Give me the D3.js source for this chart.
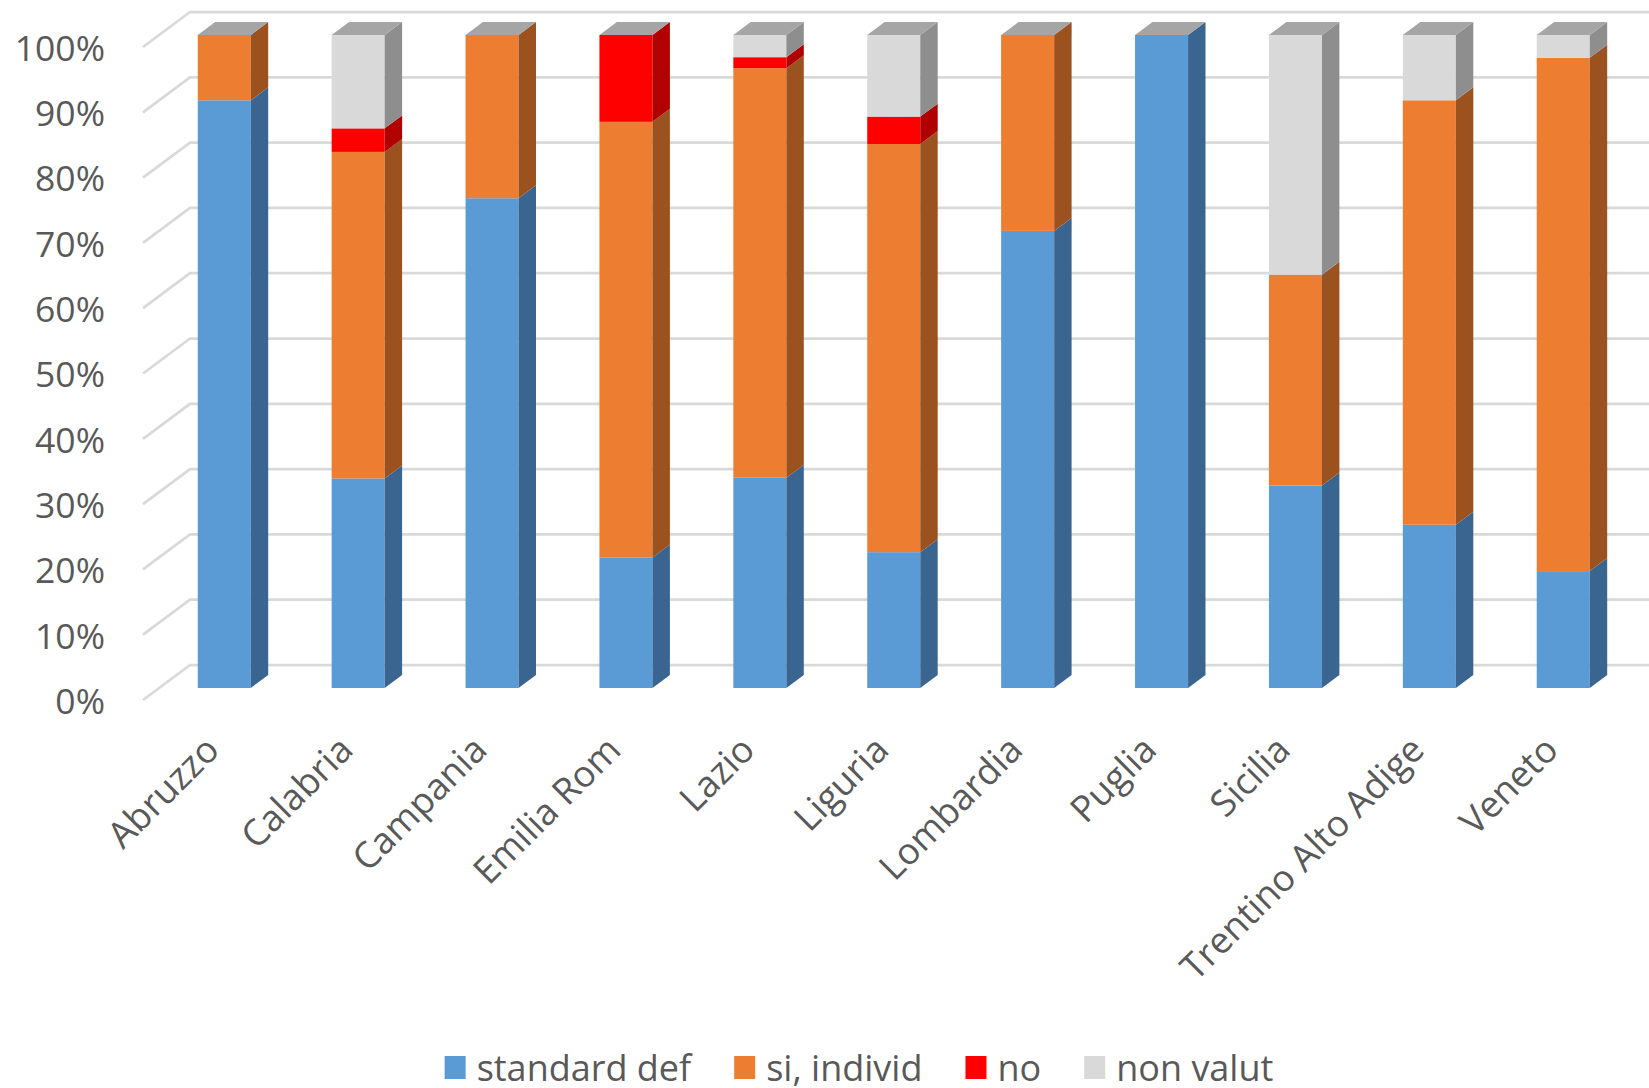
<!DOCTYPE html>
<html>
<head>
<meta charset="utf-8">
<script src="https://cdn.jsdelivr.net/npm/d3@7"></script>
<style>
  html, body { margin: 0; padding: 0; background: #ffffff; }
  svg { display: block; font-family: "Open Sans", "Noto Sans", sans-serif; }
</style>
</head>
<body>
<svg id="chart" width="1649" height="1088"></svg>
<script>
// Regions and the share (%) of each answer per region
const categories = ["Abruzzo", "Calabria", "Campania", "Emilia Rom", "Lazio", "Liguria",
  "Lombardia", "Puglia", "Sicilia", "Trentino Alto Adige", "Veneto"];
const standardDef = [90, 32.1, 75, 20, 32.2, 20.8, 70, 100, 31, 25, 17.9];
const siIndivid   = [10, 50, 25, 66.7, 62.7, 62.5, 30, 0, 32.3, 65, 78.6];
const no          = [0, 3.6, 0, 13.3, 1.7, 4.2, 0, 0, 0, 0, 0];
const nonValut    = [0, 14.3, 0, 0, 3.4, 12.5, 0, 0, 36.7, 10, 3.5];

const seriesNames = ["standard def", "si, individ", "no", "non valut"];
const tickValues = [0, 10, 20, 30, 40, 50, 60, 70, 80, 90, 100];
const tickLabels = ["0%", "10%", "20%", "30%", "40%", "50%", "60%", "70%", "80%", "90%", "100%"];

const frontColors = ["#5b9bd5", "#ed7d31", "#ff0000", "#d9d9d9"];
const sideColors  = ["#3b6591", "#9c521f", "#b00000", "#8e8e8e"];
const topColor = "#a5a5a5";
const textColor = "#595959";
const gridColor = "#d9d9d9";

const svg = d3.select("#chart");

// oblique projection: depth 1 shifts a point by (depthX, depthY)
const depthX = 47, depthY = -35;
const barDepthFront = 0.343, barDepthBack = 0.714;

const x = d3.scaleBand()
  .domain(categories)
  .range([157.3, 1630.2])
  .paddingInner(0.604)
  .paddingOuter(0.302);

// value scale on the front plane
const y = d3.scaleLinear().domain([0, 100]).range([700, 47]);

const wallLeft = 143 + depthX;

// gridlines: short diagonal on the side wall, then across the back wall
const grid = svg.append("g");
grid.selectAll("path")
  .data(tickValues)
  .join("path")
  .attr("d", v => `M143,${y(v)} L${wallLeft},${y(v) + depthY} L1649,${y(v) + depthY}`)
  .attr("fill", "none")
  .attr("stroke", gridColor)
  .attr("stroke-width", 2.75);

// y axis labels
const yAxis = d3.axisLeft(y)
  .tickValues(tickValues)
  .tickFormat((d, i) => tickLabels[i])
  .tickSize(0)
  .tickPadding(0);
const yAxisG = svg.append("g")
  .attr("transform", "translate(105,2)")
  .call(yAxis);
yAxisG.select(".domain").remove();
yAxisG.selectAll("text")
  .attr("fill", textColor)
  .style("font-size", "35.5px")
  .style("font-family", "'Open Sans', sans-serif");

// stacked segments
const seriesValues = [standardDef, siIndivid, no, nonValut];
const stack = d3.stack()
  .keys(d3.range(seriesValues.length))
  .value((d, k) => seriesValues[k][d]);
const stacked = stack(d3.range(categories.length));

const sx = (barDepthBack - barDepthFront) * depthX;   // side width
const sy = (barDepthBack - barDepthFront) * depthY;   // side rise
const oy = barDepthFront * depthY;

const bars = svg.append("g");
categories.forEach((cat, i) => {
  const g = bars.append("g");
  const x0 = x(cat);
  const w = x.bandwidth();
  stacked.forEach((layer, k) => {
    const [v0, v1] = layer[i];
    if (v1 - v0 <= 0) return;
    const yb = y(v0) + oy, yt = y(v1) + oy;
    g.append("rect")
      .attr("x", x0).attr("y", yt)
      .attr("width", w).attr("height", yb - yt)
      .attr("fill", frontColors[k]);
    g.append("path")
      .attr("d", `M${x0 + w},${yb} L${x0 + w},${yt} L${x0 + w + sx},${yt + sy} L${x0 + w + sx},${yb + sy} Z`)
      .attr("fill", sideColors[k]);
  });
  const total = stacked[stacked.length - 1][i][1];
  const yt = y(total) + oy;
  g.append("path")
    .attr("d", `M${x0},${yt} L${x0 + w},${yt} L${x0 + w + sx},${yt + sy} L${x0 + sx},${yt + sy} Z`)
    .attr("fill", topColor);
});

// category labels, rotated
svg.append("g")
  .selectAll("text")
  .data(categories)
  .join("text")
  .attr("transform", d => `translate(${x(d) + x.bandwidth() / 2 - 3},${752}) rotate(-45)`)
  .attr("text-anchor", "end")
  .attr("fill", textColor)
  .style("font-size", "36.5px")
  .text(d => d);

// legend
const legend = svg.append("g");
const items = legend.selectAll("g")
  .data(seriesNames)
  .join("g");
items.append("rect")
  .attr("width", 21).attr("height", 23)
  .attr("y", -12)
  .attr("fill", (d, i) => frontColors[i]);
items.append("text")
  .attr("x", 32)
  .attr("dy", "0.35em")
  .attr("fill", textColor)
  .style("font-size", "36px")
  .text(d => d);
let cursor = 0;
items.each(function () {
  const node = d3.select(this);
  node.attr("transform", `translate(${cursor},0)`);
  cursor += 32 + node.select("text").node().getComputedTextLength() + 43;
});
const legendWidth = cursor - 43;
legend.attr("transform", `translate(${859 - legendWidth / 2},1068)`);
</script>
</body>
</html>
